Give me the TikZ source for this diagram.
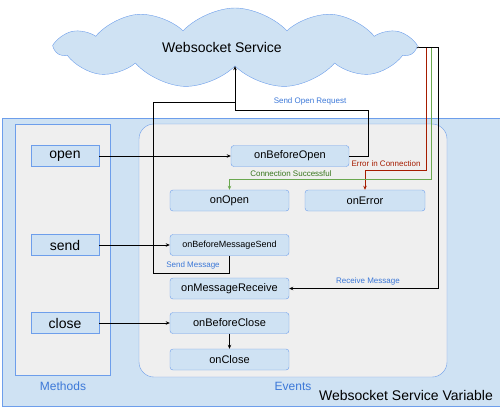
\documentclass[tikz,border=0pt]{standalone}
\usepackage{fontspec}
\setmainfont{Liberation Sans}
\usetikzlibrary{arrows.meta,shapes.symbols}
\definecolor{paleblue}{HTML}{CFE2F3}
\definecolor{edgeblue}{HTML}{6D9EEB}
\definecolor{textblue}{HTML}{3C78D8}
\definecolor{panelgray}{HTML}{EFEFEF}
\definecolor{errred}{HTML}{A61C00}
\definecolor{okgreen}{HTML}{38761D}
\definecolor{okline}{HTML}{6AA84F}
\begin{document}
\begin{tikzpicture}[x=1pt,y=-1pt,
  method/.style={draw=edgeblue,fill=paleblue,minimum width=68pt,minimum height=21pt,inner sep=0pt,font=\fontsize{14}{16}\selectfont},
  event/.style={draw=edgeblue,fill=paleblue,rounded corners=3pt,minimum width=119pt,minimum height=21pt,inner sep=0pt,font=\fontsize{11}{13}\selectfont},
  conn/.style={-{Stealth[length=4pt,width=3.5pt]},line width=0.7pt},
  note/.style={font=\fontsize{8}{10}\selectfont,textblue},
  title/.style={font=\fontsize{12}{14}\selectfont,textblue}]
\useasboundingbox (0,0) rectangle (500,408);
\draw[fill=paleblue,draw=edgeblue] (2,118) rectangle (503,406);
\draw[fill=panelgray,draw=edgeblue] (15,124) rectangle (110,375);
\draw[fill=panelgray,draw=edgeblue,rounded corners=15pt] (139,124) rectangle (447,377);
\node[title] (methods) at (63,386) {Methods};
\node[title] (events) at (293,386) {Events};
\node[font=\fontsize{14}{16}\selectfont] (variable) at (406,395) {Websocket Service Variable};

\node[cloud,cloud puffs=11,cloud puff arc=95,aspect=4.6,draw=edgeblue,fill=paleblue,minimum width=358pt,minimum height=80pt,inner sep=0pt] (ws) at (235,48) {};
\node[font=\fontsize{14}{16}\selectfont] (wstext) at (222,47) {Websocket Service};

\node[method] (open) at (65,156) {open};
\node[method] (send) at (65,245) {send};
\node[method] (close) at (65,323) {close};

\node[event,minimum width=118pt] (obo) at (290,156) {onBeforeOpen};
\node[event] (onopen) at (229.5,200.5) {onOpen};
\node[event,minimum width=120pt] (onerr) at (365,200.5) {onError};
\node[event,font=\fontsize{9}{11}\selectfont] (obms) at (229.5,245) {onBeforeMessageSend};
\node[event] (omr) at (229.5,288.5) {onMessageReceive};
\node[event] (obc) at (229.5,323) {onBeforeClose};
\node[event] (onclose) at (229.5,359.5) {onClose};

\draw[conn] (open) -- (obo);
\draw[conn] (send) -- (obms);
\draw[conn] (close) -- (obc);
\draw[conn] (obc) -- (onclose);

\coordinate (req) at (ws.south |- 0,110);
\coordinate (msg) at (ws.south |- 0,102);
\draw[conn] (obo.east) -- ++(19,0) |- (req) -- (ws.south);
\draw[line width=0.7pt] (obms.south) -- ++(0,18) -| (153,102) -- (msg);
\node[note] (reqlabel) at (310,101) {Send Open Request};
\node[note] (msglabel) at (193,265.5) {Send Message};

\coordinate (wsright) at (419,47);
\draw[line width=0.7pt] (ws.east) -- (wsright);
\draw[conn,errred] (wsright) -| ++(7,123) -| (onerr.north);
\draw[conn,okline] (wsright) -| ++(12,132) -| (onopen.north);
\draw[conn] (wsright) -- ++(19,0) |- (omr.east);
\node[note,errred] (errlabel) at (386,164) {Error in Connection};
\node[note,okgreen] (oklabel) at (291,173.5) {Connection Successful};
\node[note] (rcvlabel) at (368,281) {Receive Message};
\end{tikzpicture}
\end{document}
